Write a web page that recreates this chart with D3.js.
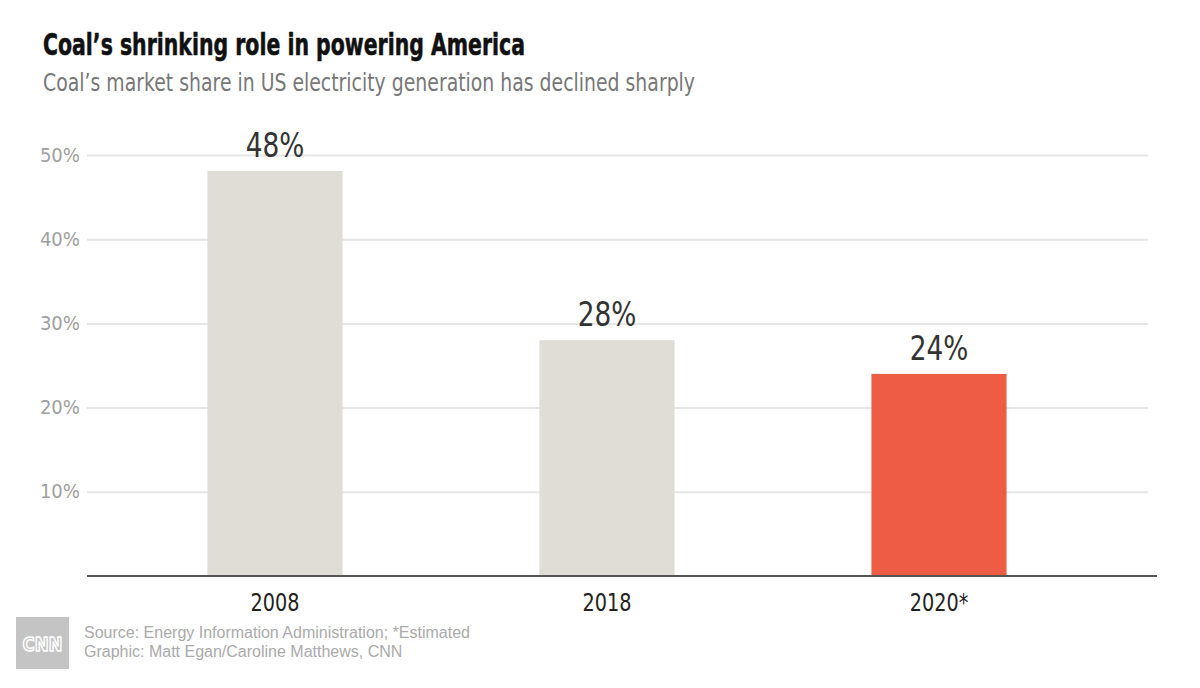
<!DOCTYPE html>
<html>
<head>
<meta charset="utf-8">
<script src="https://cdn.jsdelivr.net/npm/d3@7"></script>
<style>
  body { margin: 0; background: #fff; }
  svg { display: block; }
</style>
</head>
<body>
<svg id="chart" width="1200" height="688"></svg>
<script>
const categories = ["2008", "2018", "2020*"];
const values = [48.1, 28.0, 24.0];
const valueLabels = ["48%", "28%", "24%"];
const yTicks = [10, 20, 30, 40, 50];
const barColors = ["#e0ddd6", "#e0ddd6", "#ef5c45"];

const condensed = "'DejaVu Sans', sans-serif";
const svg = d3.select("#chart");

function condense(sel, factor) {
  sel.each(function () {
    const w = this.getComputedTextLength();
    d3.select(this).attr("textLength", w * factor).attr("lengthAdjust", "spacingAndGlyphs");
  });
}

const x = d3.scaleBand().domain(categories).range([109, 1105]).paddingInner(0.593).paddingOuter(0.2965);
const y = d3.scaleLinear().domain([0, 50]).range([576, 155]);

// title
svg.append("text").attr("x", 43).attr("y", 55).text("Coal\u2019s shrinking role in powering America")
  .style("font-family", condensed).style("font-weight", "bold").style("font-size", "30px").attr("fill", "#111")
  .attr("stroke", "#111").attr("stroke-width", 0.6)
  .attr("textLength", 482).attr("lengthAdjust", "spacingAndGlyphs");
svg.append("text").attr("x", 43).attr("y", 91).text("Coal\u2019s market share in US electricity generation has declined sharply")
  .style("font-family", condensed).style("font-size", "25px").attr("fill", "#777")
  .attr("textLength", 652).attr("lengthAdjust", "spacingAndGlyphs");

// grid
const yAxis = d3.axisLeft(y).tickValues(yTicks).tickSize(-(1148 - 87)).tickFormat(d => d + "%");
const gy = svg.append("g").attr("transform", "translate(87,0)").call(yAxis);
gy.select(".domain").remove();
gy.selectAll(".tick line").attr("stroke", "#e6e6e6").attr("stroke-width", 2);
gy.selectAll(".tick text").attr("x", -7).attr("fill", "#a0a0a0")
  .style("font-family", condensed).style("font-size", "19px");
condense(gy.selectAll(".tick text"), 0.95);

// bars
svg.append("g").selectAll("rect").data(values).join("rect")
  .attr("x", (d, i) => x(categories[i]))
  .attr("width", x.bandwidth())
  .attr("y", d => y(d))
  .attr("height", d => y(0) - y(d))
  .attr("fill", (d, i) => barColors[i]);

// value labels
const vl = svg.append("g").selectAll("text").data(values).join("text")
  .attr("x", (d, i) => x(categories[i]) + x.bandwidth() / 2)
  .attr("y", d => y(d) - 14)
  .attr("text-anchor", "middle")
  .text((d, i) => valueLabels[i])
  .style("font-family", condensed).style("font-size", "33px").attr("fill", "#333");
condense(vl, 0.8);

// x axis
const xAxis = d3.axisBottom(x).tickSize(0);
const gx = svg.append("g").attr("transform", "translate(0,576)").call(xAxis);
gx.select(".domain").remove();
gx.selectAll(".tick text").attr("fill", "#222").attr("y", 35).attr("dy", 0)
  .style("font-family", condensed).style("font-size", "25px");
condense(gx.selectAll(".tick text"), 0.77);
svg.append("line").attr("x1", 87).attr("x2", 1157).attr("y1", 576).attr("y2", 576)
  .attr("stroke", "#555").attr("stroke-width", 2);

// footer
svg.append("rect").attr("x", 16).attr("y", 617).attr("width", 53).attr("height", 52).attr("fill", "#c4c4c4");
svg.append("text").attr("x", 42.5).attr("y", 651).attr("text-anchor", "middle").text("CNN")
  .style("font-family", condensed).style("font-weight", "bold").style("font-size", "20px")
  .attr("fill", "none").attr("stroke", "#fff").attr("stroke-width", 1.6)
  .attr("textLength", 40).attr("lengthAdjust", "spacingAndGlyphs");
svg.append("text").attr("x", 84).attr("y", 638).text("Source: Energy Information Administration; *Estimated")
  .style("font-family", "'Liberation Sans', Arial, sans-serif").style("font-size", "16px").attr("fill", "#aaa");
svg.append("text").attr("x", 84).attr("y", 657).text("Graphic: Matt Egan/Caroline Matthews, CNN")
  .style("font-family", "'Liberation Sans', Arial, sans-serif").style("font-size", "16px").attr("fill", "#aaa");
</script>
</body>
</html>
